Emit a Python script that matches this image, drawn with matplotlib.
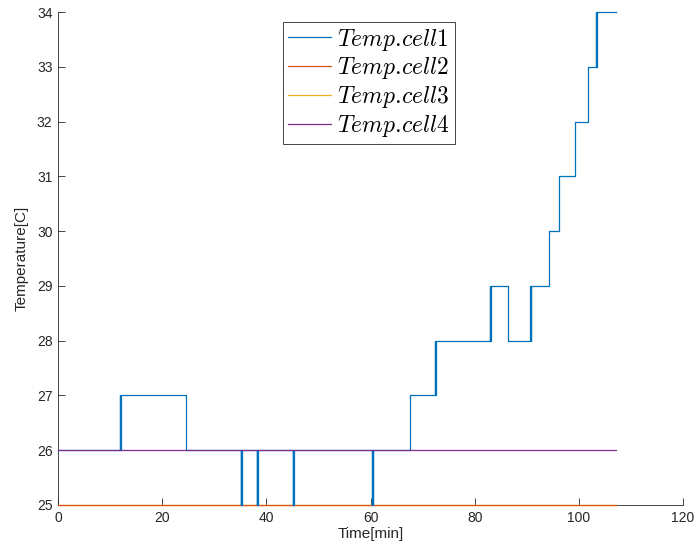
import matplotlib
matplotlib.use("Agg")
import matplotlib.pyplot as plt

# Cell 1 readings (step data: value holds from each time until the next)
time1 = [0.0, 11.90, 11.97, 12.04, 24.50,
         35.05, 35.12, 35.19, 35.26,
         38.15, 38.22, 38.29, 38.36,
         45.05, 45.12, 45.19, 45.26,
         60.30, 60.37, 60.44, 60.51,
         67.60, 72.40, 72.47, 72.54,
         82.90, 82.97, 83.04, 86.40,
         90.70, 90.77, 90.84, 94.20,
         96.10, 99.30, 101.80,
         103.30, 103.37, 103.44, 107.20]
temp1 = [26, 27, 26, 27, 26,
         25, 26, 25, 26,
         25, 26, 25, 26,
         25, 26, 25, 26,
         25, 26, 25, 26,
         27, 28, 27, 28,
         29, 28, 29, 28,
         29, 28, 29, 30,
         31, 32, 33,
         34, 33, 34, 34]

time_other = [0.0, 107.20]
temp2 = [25, 25]
temp3 = [25, 25]
temp4 = [26, 26]

labels = [r'$Temp.\!cell1$', r'$Temp.\!cell2$', r'$Temp.\!cell3$', r'$Temp.\!cell4$']
colors = ['#0072BD', '#D95319', '#EDB120', '#7E2F8E']

xticks = [0, 20, 40, 60, 80, 100, 120]
yticks = [25, 26, 27, 28, 29, 30, 31, 32, 33, 34]

plt.rcParams['mathtext.fontset'] = 'cm'
plt.rcParams['font.family'] = ['Liberation Sans', 'DejaVu Sans']

fig = plt.figure(figsize=(6.94, 5.54), dpi=100)
ax = fig.add_axes([58/694, 49/554, 625/694, 493/554])

ax.plot(time1, temp1, drawstyle='steps-post', color=colors[0], lw=0.9,
        label=labels[0], zorder=3.3, clip_on=False)
ax.plot(time_other, temp2, color=colors[1], lw=0.9, label=labels[1], zorder=3.2, clip_on=False)
ax.plot(time_other, temp3, color=colors[2], lw=0.9, label=labels[2], zorder=3.1, clip_on=False)
ax.plot(time_other, temp4, color=colors[3], lw=0.9, label=labels[3], zorder=3.4, clip_on=False)

ax.set_xlim(0, 120)
ax.set_ylim(25, 34)
ax.set_xticks(xticks)
ax.set_yticks(yticks)
for s in ['top', 'right']:
    ax.spines[s].set_visible(False)
for s in ['left', 'bottom']:
    ax.spines[s].set_color('#262626')
    ax.spines[s].set_linewidth(0.6)
    ax.spines[s].set_zorder(2)
ax.tick_params(direction='in', length=5, width=0.6, color='#262626',
               labelsize=10, labelcolor='#262626', pad=4)
ax.set_xlabel('Time[min]', fontsize=11, color='#262626', labelpad=2)
ax.set_ylabel('Temperature[C]', fontsize=11, color='#262626', labelpad=6)

leg = ax.legend(loc='upper left', bbox_to_anchor=(0.36, 0.98), fontsize=17,
                frameon=True, fancybox=False, framealpha=1, edgecolor='#262626',
                handlelength=1.85, handletextpad=0.25, borderpad=0.2,
                labelspacing=0.12, borderaxespad=0)
leg.get_frame().set_linewidth(0.6)
leg.set_zorder(5)

fig.savefig('out.png', dpi=100)
